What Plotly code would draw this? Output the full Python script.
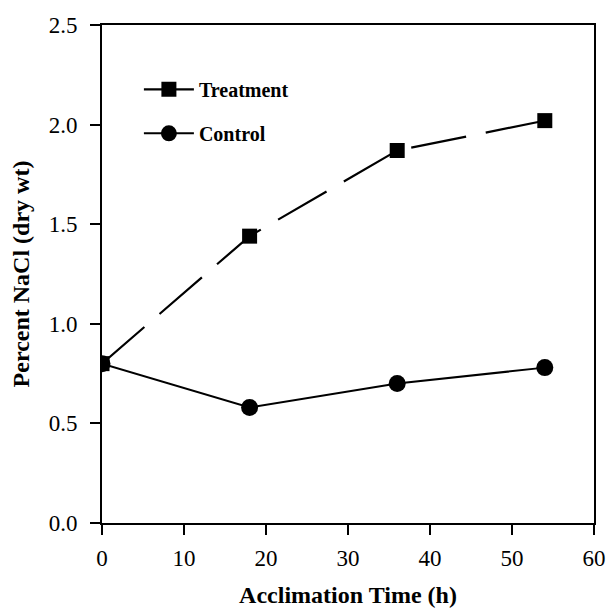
import plotly.graph_objects as go

time_h = [0, 18, 36, 54]
treatment = [0.80, 1.44, 1.87, 2.02]
control = [0.80, 0.58, 0.70, 0.78]
control_err = [0.0, 0.0, 0.02, 0.0]
x_ticks = [0, 10, 20, 30, 40, 50, 60]
y_ticks = [0.0, 0.5, 1.0, 1.5, 2.0, 2.5]

FONT = "Liberation Serif"

fig = go.Figure()
fig.add_trace(go.Scatter(
    x=time_h, y=treatment, name="<b>Treatment</b>", mode="lines+markers",
    line=dict(color="black", width=2.2, dash="56px,20px"),
    marker=dict(symbol="square", size=15, color="black"),
    legendgroup="t",
))
fig.add_trace(go.Scatter(
    x=time_h, y=control, name="<b>Control</b>", mode="lines+markers",
    line=dict(color="black", width=2),
    marker=dict(symbol="circle", size=17, color="black"),
    error_y=dict(type="data", array=control_err, color="black", thickness=1.5, width=4),
    legendgroup="c",
))

axis_common = dict(
    showline=True, linecolor="black", linewidth=1.6, mirror=True,
    ticks="outside", ticklen=10, tickwidth=1.6, tickcolor="black",
    showgrid=False, zeroline=False, automargin=False,
    tickfont=dict(family=FONT, size=23, color="black"),
)

fig.update_layout(
    width=608, height=608,
    margin=dict(l=102, r=14, t=25, b=85),
    paper_bgcolor="white", plot_bgcolor="white",
    font=dict(family=FONT, color="black"),
    xaxis=dict(range=[0, 60], tickvals=x_ticks, ticklabelstandoff=4, **axis_common,
               title=dict(text="<b>Acclimation Time (h)</b>", font=dict(family=FONT, size=24), standoff=20)),
    yaxis=dict(range=[0, 2.5], tickvals=y_ticks, tickformat=".1f", ticklabelstandoff=8, **axis_common,
               title=dict(text="<b>Percent NaCl (dry wt)</b>", font=dict(family=FONT, size=24), standoff=12)),
    legend=dict(x=0.075, y=0.91, xanchor="left", yanchor="top",
                font=dict(family=FONT, size=20, color="black"),
                bgcolor="rgba(0,0,0,0)", tracegroupgap=15, itemwidth=50,
                traceorder="grouped"),
    showlegend=True,
)

fig.write_html("out.html")
